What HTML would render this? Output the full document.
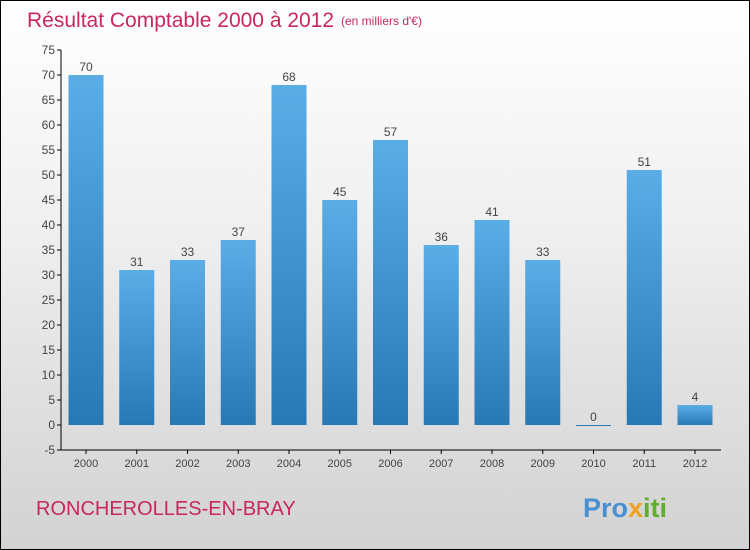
<!DOCTYPE html>
<html><head><meta charset="utf-8"><style>
body{margin:0}
#c{width:748px;height:548px;border:1px solid #000;background:linear-gradient(#fff 0%,#f0f0f0 40%,#d2d2d2 100%);position:relative;font-family:"Liberation Sans",sans-serif}
</style></head><body>
<div id="c">
<svg id="s" width="748" height="548" style="position:absolute;left:0;top:0">
<defs><linearGradient id="g" x1="0" y1="0" x2="0" y2="1"><stop offset="0" stop-color="#5aade6"/><stop offset="1" stop-color="#2878b4"/></linearGradient></defs>
<text x="26" y="26" font-size="21" fill="#c8285a">Résultat Comptable 2000 à 2012</text>
<text x="340" y="24" font-size="12" fill="#c8285a">(en milliers d'€)</text>
<text x="35" y="514" font-size="20" fill="#c8285a">RONCHEROLLES-EN-BRAY</text>
<text x="582" y="516" font-size="27" font-weight="bold"><tspan fill="#4a90d0">Pro</tspan><tspan fill="#f0a020">x</tspan><tspan fill="#60b030">iti</tspan></text>
<g id="plot"></g>
</svg>
</div>
<script>
const years=["2000","2001","2002","2003","2004","2005","2006","2007","2008","2009","2010","2011","2012"];
const values=[70,31,33,37,68,45,57,36,41,33,0,51,4];
const ticks=[-5,0,5,10,15,20,25,30,35,40,45,50,55,60,65,70,75];
const NS="http://www.w3.org/2000/svg";
const g=document.getElementById('plot');
const y=v=>424-(v*5);
const x=i=>85+i*50.75;
function mk(t,a){const e=document.createElementNS(NS,t);for(const k in a)e.setAttribute(k,a[k]);g.appendChild(e);return e;}
let ax=mk('path',{d:`M60,${y(75)} V${y(-5)} H720`,stroke:'#000',fill:'none'});


ticks.forEach(t=>{
 mk('line',{x1:56,x2:60,y1:y(t),y2:y(t),stroke:'#000'});
 const l=mk('text',{x:54,y:y(t)+4,'font-size':12,fill:'#444','text-anchor':'end'});
 l.textContent=t;
 
 
});
years.forEach((yr,i)=>{
 const cx=x(i),v=values[i];
 mk('line',{x1:cx,x2:cx,y1:y(-5),y2:y(-5)+4,stroke:'#000'});
 const t=mk('text',{x:cx,y:466,'font-size':11,fill:'#444','text-anchor':'middle'});
 t.textContent=yr;
 
 
 const top=Math.min(y(v),y(0)),h=Math.max(Math.abs(y(v)-y(0)),1);
 const b=mk('rect',{x:cx-17.5,y:top,width:35,height:h,fill:v===0?'#2878b4':'url(#g)'});
 
 
 const vl=mk('text',{x:cx,y:top-4,'font-size':12,fill:'#444','text-anchor':'middle'});
 vl.textContent=v;
 
 
});
</script>
</body></html>
